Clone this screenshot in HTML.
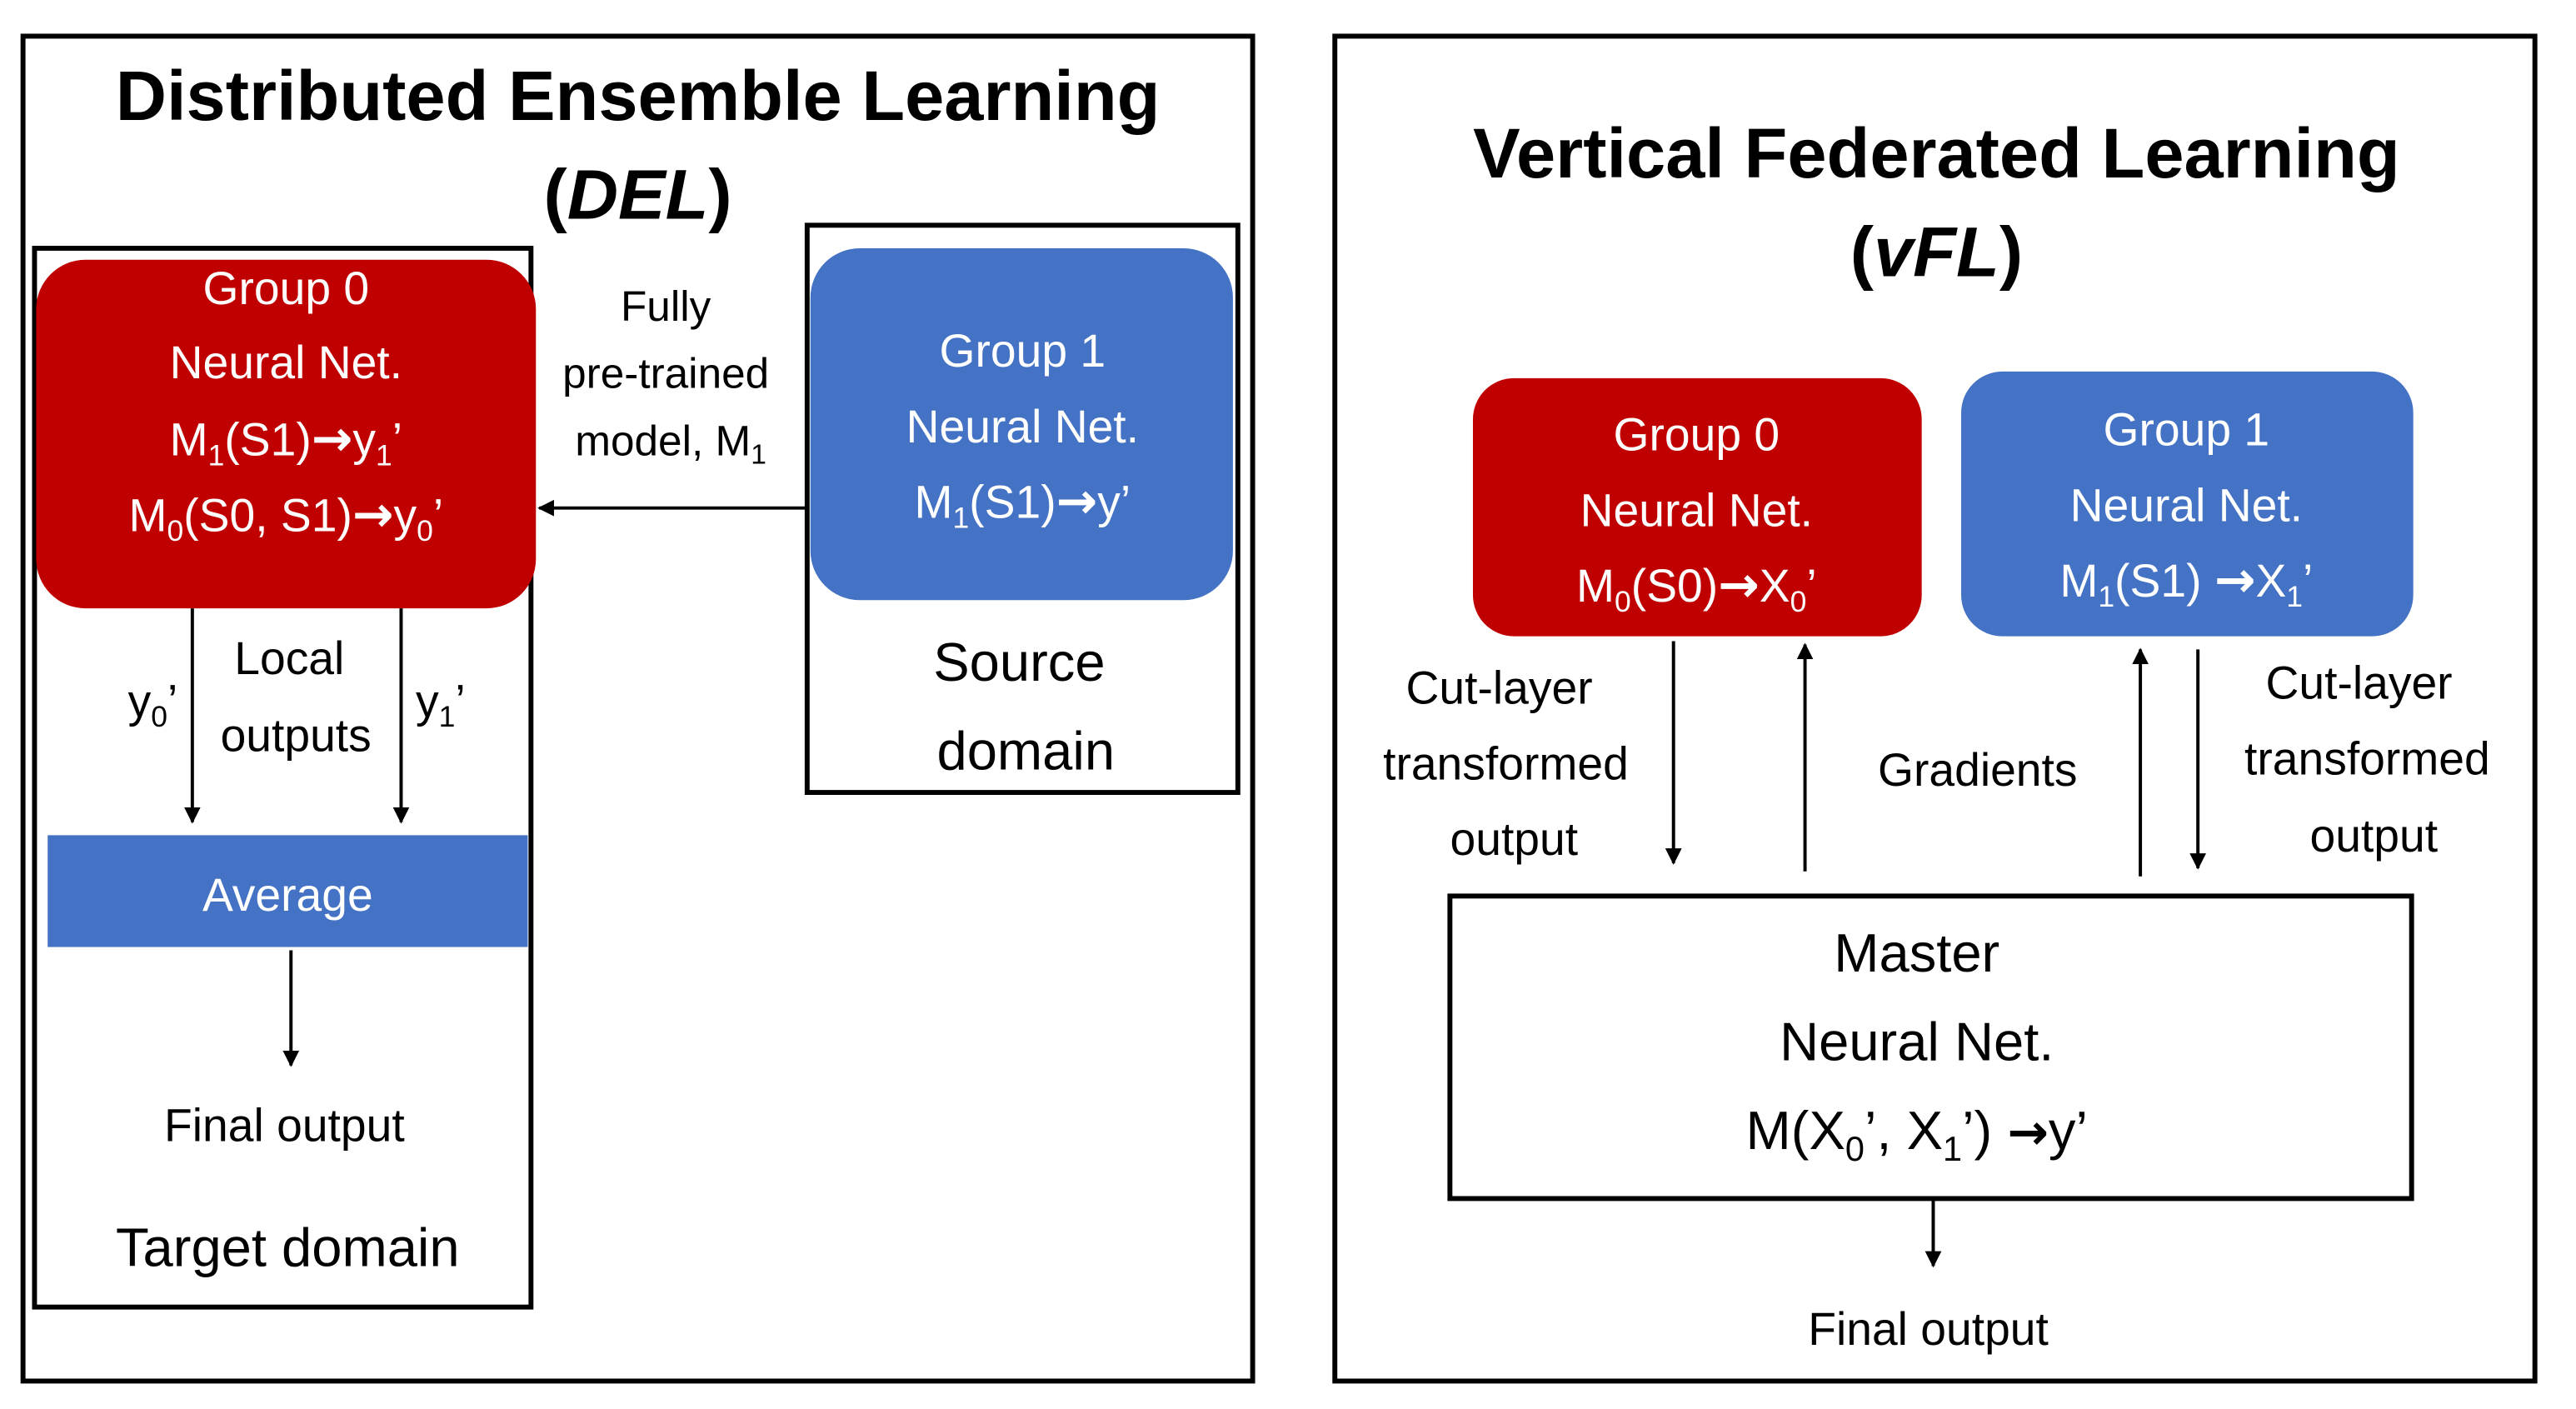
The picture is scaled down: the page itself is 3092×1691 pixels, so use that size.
<!DOCTYPE html>
<html><head><meta charset="utf-8"><style>
html,body{margin:0;padding:0;background:#fff;}
svg{display:block;}
text{font-family:"Liberation Sans","DejaVu Sans",sans-serif;}
.ar{font-family:"DejaVu Sans",sans-serif;font-size:30px;font-weight:bold;}
</style></head><body>
<svg width="3092" height="1691" viewBox="0 0 1567 857" preserveAspectRatio="none" xmlns="http://www.w3.org/2000/svg">
<defs>
<marker id="ah" markerWidth="10" markerHeight="10" refX="9" refY="5" orient="auto" markerUnits="userSpaceOnUse">
<path d="M0,0 L10,5 L0,10 z" fill="#000"/>
</marker>
</defs>
<rect x="0" y="0" width="1567" height="857" fill="#fff"/>
<!-- LEFT -->
<rect x="14" y="22" width="748" height="818" fill="none" stroke="#000" stroke-width="3"/>
<text x="388" y="73" font-size="43" font-weight="bold" text-anchor="middle">Distributed Ensemble Learning</text>
<text x="388" y="133" font-size="43" font-weight="bold" text-anchor="middle">(<tspan font-style="italic">DEL</tspan>)</text>
<rect x="21" y="151" width="302" height="644" fill="none" stroke="#000" stroke-width="3"/>
<rect x="22" y="158" width="304" height="212" rx="30" fill="#c00000"/>
<g fill="#fff" font-size="28" text-anchor="middle">
<text x="174" y="185">Group 0</text>
<text x="174" y="230">Neural Net.</text>
<text x="174" y="277">M<tspan font-size="18" dy="6">1</tspan><tspan dy="-6">(S1)</tspan><tspan class="ar">→</tspan><tspan>y</tspan><tspan font-size="18" dy="6">1</tspan><tspan dy="-6">’</tspan></text>
<text x="174" y="323">M<tspan font-size="18" dy="6">0</tspan><tspan dy="-6">(S0, S1)</tspan><tspan class="ar">→</tspan><tspan>y</tspan><tspan font-size="18" dy="6">0</tspan><tspan dy="-6">’</tspan></text>
</g>
<rect x="491" y="137" width="262" height="345" fill="none" stroke="#000" stroke-width="3"/>
<rect x="493" y="151" width="257" height="214" rx="30" fill="#4472c4"/>
<g fill="#fff" font-size="28" text-anchor="middle">
<text x="622" y="223">Group 1</text>
<text x="622" y="269">Neural Net.</text>
<text x="622" y="315">M<tspan font-size="18" dy="6">1</tspan><tspan dy="-6">(S1)</tspan><tspan class="ar">→</tspan><tspan>y’</tspan></text>
</g>
<g font-size="33" text-anchor="middle">
<text x="620" y="414">Source</text>
<text x="624" y="468">domain</text>
</g>
<line x1="491" y1="309" x2="328" y2="309" stroke="#000" stroke-width="2" marker-end="url(#ah)"/>
<g font-size="26" text-anchor="middle">
<text x="405" y="195">Fully</text>
<text x="405" y="236">pre-trained</text>
<text x="408" y="277">model, M<tspan font-size="17" dy="5">1</tspan></text>
</g>
<line x1="117" y1="370" x2="117" y2="500" stroke="#000" stroke-width="2" marker-end="url(#ah)"/>
<line x1="244" y1="370" x2="244" y2="500" stroke="#000" stroke-width="2" marker-end="url(#ah)"/>
<g font-size="28" text-anchor="middle">
<text x="93" y="436">y<tspan font-size="18" dy="6">0</tspan><tspan dy="-6">’</tspan></text>
<text x="176" y="410">Local</text>
<text x="180" y="457">outputs</text>
<text x="268" y="436">y<tspan font-size="18" dy="6">1</tspan><tspan dy="-6">’</tspan></text>
</g>
<rect x="29" y="508" width="292" height="68" fill="#4472c4"/>
<text x="175" y="554" font-size="28" fill="#fff" text-anchor="middle">Average</text>
<line x1="177" y1="578" x2="177" y2="648" stroke="#000" stroke-width="2" marker-end="url(#ah)"/>
<text x="173" y="694" font-size="28" text-anchor="middle">Final output</text>
<text x="175" y="770" font-size="33" text-anchor="middle">Target domain</text>
<!-- RIGHT -->
<rect x="812" y="22" width="730" height="818" fill="none" stroke="#000" stroke-width="3"/>
<text x="1178" y="108" font-size="43" font-weight="bold" text-anchor="middle">Vertical Federated Learning</text>
<text x="1178" y="168" font-size="43" font-weight="bold" text-anchor="middle">(<tspan font-style="italic">vFL</tspan>)</text>
<rect x="896" y="230" width="273" height="157" rx="25" fill="#c00000"/>
<g fill="#fff" font-size="28" text-anchor="middle">
<text x="1032" y="274">Group 0</text>
<text x="1032" y="320">Neural Net.</text>
<text x="1032" y="366">M<tspan font-size="18" dy="6">0</tspan><tspan dy="-6">(S0)</tspan><tspan class="ar">→</tspan><tspan>X</tspan><tspan font-size="18" dy="6">0</tspan><tspan dy="-6">’</tspan></text>
</g>
<rect x="1193" y="226" width="275" height="161" rx="25" fill="#4472c4"/>
<g fill="#fff" font-size="28" text-anchor="middle">
<text x="1330" y="271">Group 1</text>
<text x="1330" y="317">Neural Net.</text>
<text x="1330" y="363">M<tspan font-size="18" dy="6">1</tspan><tspan dy="-6">(S1) </tspan><tspan class="ar">→</tspan><tspan>X</tspan><tspan font-size="18" dy="6">1</tspan><tspan dy="-6">’</tspan></text>
</g>
<line x1="1018" y1="390" x2="1018" y2="525" stroke="#000" stroke-width="2" marker-end="url(#ah)"/>
<line x1="1098" y1="530" x2="1098" y2="392" stroke="#000" stroke-width="2" marker-end="url(#ah)"/>
<line x1="1302" y1="533" x2="1302" y2="395" stroke="#000" stroke-width="2" marker-end="url(#ah)"/>
<line x1="1337" y1="395" x2="1337" y2="528" stroke="#000" stroke-width="2" marker-end="url(#ah)"/>
<g font-size="28" text-anchor="middle">
<text x="912" y="428">Cut-layer</text>
<text x="916" y="474">transformed</text>
<text x="921" y="520">output</text>
<text x="1203" y="478">Gradients</text>
<text x="1435" y="425">Cut-layer</text>
<text x="1440" y="471">transformed</text>
<text x="1444" y="518">output</text>
</g>
<rect x="882" y="545" width="585" height="184" fill="none" stroke="#000" stroke-width="3"/>
<g font-size="33" text-anchor="middle">
<text x="1166" y="591">Master</text>
<text x="1166" y="645">Neural Net.</text>
<text x="1166" y="699">M(X<tspan font-size="21" dy="7">0</tspan><tspan dy="-7">’, X</tspan><tspan font-size="21" dy="7">1</tspan><tspan dy="-7">’) </tspan><tspan class="ar" font-size="34">→</tspan><tspan>y’</tspan></text>
</g>
<line x1="1176" y1="730" x2="1176" y2="770" stroke="#000" stroke-width="2" marker-end="url(#ah)"/>
<text x="1173" y="818" font-size="28" text-anchor="middle">Final output</text>
</svg>
</body></html>
